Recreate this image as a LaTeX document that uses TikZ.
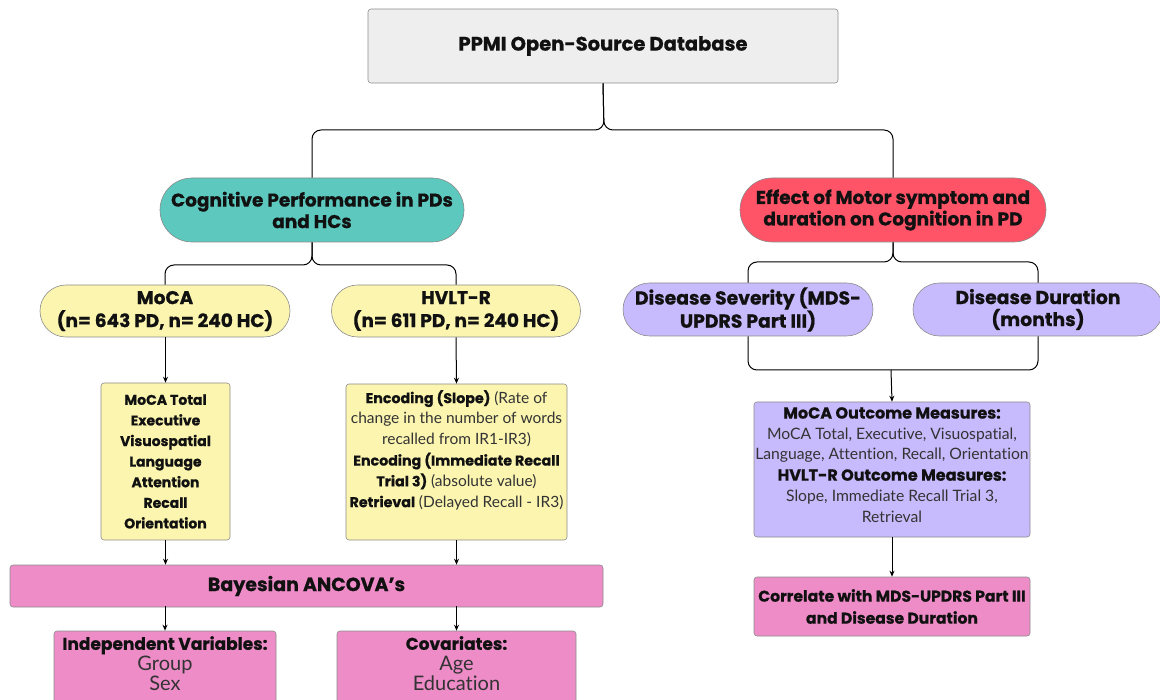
\documentclass[tikz,border=0pt]{standalone}
\usepackage{fontspec}
\setmainfont{Poppins}[BoldFeatures={FakeBold=0.7}]
\newfontfamily\rg{Lato}[Ligatures={NoCommon}, Color=333333]
\usetikzlibrary{arrows.meta}
\definecolor{bgray}{HTML}{8C8C8C}
\definecolor{cgray}{HTML}{EEEEEE}
\definecolor{cteal}{HTML}{5CC8BE}
\definecolor{cred}{HTML}{FF5468}
\definecolor{cyel}{HTML}{FBF5B0}
\definecolor{clav}{HTML}{C8BBFD}
\definecolor{cpink}{HTML}{EE8CC8}
\definecolor{ctext}{HTML}{111111}
\begin{document}
\begin{tikzpicture}[x=1pt,y=-1pt,
  shp/.style={draw=bgray, line width=0.6pt, inner sep=0pt, align=center, text=ctext},
  rbox/.style={shp, rounded corners=3pt},
  pill/.style={shp, rounded corners=#1},
  txt/.style={inner sep=0pt, align=center, text=ctext},
  conn/.style={line width=1pt, draw=black, rounded corners=9pt},
  arr/.style={line width=1pt, draw=black, -{Stealth[length=6pt,width=5pt]}}
]
\useasboundingbox (0,0) rectangle (1160,700);

% top
\node[rbox, fill=cgray, minimum width=470pt, minimum height=74pt,
  font=\fontsize{19.5}{24}\selectfont\bfseries] (ppmi) at (603,46) {PPMI Open-Source Database};

\node[pill=32pt, fill=cteal, minimum width=304pt, minimum height=64pt,
  font=\fontsize{18.5}{21.5}\selectfont\bfseries] (cog) at (312,210) {Cognitive Performance in PDs\\and HCs};
\node[pill=32pt, fill=cred, minimum width=306pt, minimum height=64pt,
  font=\fontsize{18.5}{21.5}\selectfont\bfseries] (eff) at (893,210) {Effect of Motor symptom and\\duration on Cognition in PD};

\coordinate (j1) at (604,130);
\draw[conn] (ppmi.south) -- (j1) -| (cog.north);
\draw[conn] (ppmi.south) -- (j1) -| (eff.north);

% left branch
\node[pill=26pt, fill=cyel, minimum width=250pt, minimum height=52pt,
  font=\fontsize{18.5}{23}\selectfont\bfseries] (moca) at (165,311) {MoCA\\(n= 643 PD, n= 240 HC)};
\node[pill=26pt, fill=cyel, minimum width=249pt, minimum height=52pt,
  font=\fontsize{18.5}{23}\selectfont\bfseries] (hvlt) at (456,311) {HVLT-R\\(n= 611 PD, n= 240 HC)};
\coordinate (j2) at (312,265);
\draw[conn] (cog.south) -- (j2) -| (moca.north);
\draw[conn] (cog.south) -- (j2) -| (hvlt.north);

\node[rbox, fill=cyel, minimum width=129pt, minimum height=157pt,
  font=\fontsize{14}{20.6}\selectfont\bfseries] (mocalist) at (165.5,461.5)
  {MoCA Total\\Executive\\Visuospatial\\Language\\Attention\\Recall\\Orientation};
\node[rbox, fill=cyel, minimum width=221pt, minimum height=156pt] (hvltlist) at (456.5,462) {};
\node[txt, anchor=north, font=\fontsize{14.2}{20.8}\selectfont] (hvlttext) at (456.5,390)
  {\textbf{Encoding (Slope)} {\rg\fontsize{15.5}{20.8}\selectfont (Rate of}\\
   {\rg\fontsize{15.5}{20.8}\selectfont change in the number of words}\\
   {\rg\fontsize{15.5}{20.8}\selectfont recalled from IR1-IR3)}\\
   \textbf{Encoding (Immediate Recall}\\
   \textbf{Trial 3)} {\rg\fontsize{15.5}{20.8}\selectfont (absolute value)}\\
   \textbf{Retrieval} {\rg\fontsize{15.5}{20.8}\selectfont (Delayed Recall - IR3)}};

\draw[arr] (moca.south -| mocalist.north) -- (mocalist.north);
\draw[arr] (hvlt.south) -- (hvltlist.north);

\node[rbox, fill=cpink, minimum width=593pt, minimum height=42pt,
  font=\fontsize{19}{22}\selectfont\bfseries] (bayes) at (306.5,586) {Bayesian ANCOVA’s};
\draw[arr] (mocalist.south) -- (mocalist.south |- bayes.north);
\draw[arr] (hvltlist.south) -- (hvltlist.south |- bayes.north);

\node[rbox, fill=cpink, minimum width=222pt, minimum height=84pt] (iv) at (165,673) {};
\node[txt, anchor=north, font=\fontsize{17}{20.5}\selectfont] (ivtext) at (165,636)
  {\textbf{Independent Variables:}\\{\rg\fontsize{20}{20.5}\selectfont Group}\\{\rg\fontsize{20}{20.5}\selectfont Sex}};
\node[rbox, fill=cpink, minimum width=239pt, minimum height=84pt] (cov) at (456.5,673) {};
\node[txt, anchor=north, font=\fontsize{17}{20.5}\selectfont] (covtext) at (456.5,636)
  {\textbf{Covariates:}\\{\rg\fontsize{20}{20.5}\selectfont Age}\\{\rg\fontsize{20}{20.5}\selectfont Education}};
\draw[arr] (165,606) -- (iv.north);
\draw[arr] (456.5,606) -- (cov.north);

% right branch
\node[pill=26.5pt, fill=clav, minimum width=250pt, minimum height=53pt,
  font=\fontsize{18.8}{22}\selectfont\bfseries] (sev) at (748,309.5) {Disease Severity (MDS-\\UPDRS Part III)};
\node[pill=26.5pt, fill=clav, minimum width=250pt, minimum height=53pt,
  font=\fontsize{18.8}{22}\selectfont\bfseries] (dur) at (1038,309.5) {Disease Duration\\(months)};
\coordinate (j3) at (893,262);
\draw[conn] (eff.south) -- (j3) -| (sev.north);
\draw[conn] (eff.south) -- (j3) -| (dur.north);

\coordinate (j4) at (891,370);
\draw[conn] (sev.south) |- (j4);
\draw[conn] (dur.south) |- (j4);

\node[rbox, fill=clav, minimum width=276pt, minimum height=135pt] (out) at (892,469.5) {};
\node[txt, anchor=north, font=\fontsize{16}{20.7}\selectfont] (outtext) at (892,407)
  {\textbf{MoCA Outcome Measures:}\\
   {\rg\fontsize{15.7}{20.7}\selectfont MoCA Total, Executive, Visuospatial,}\\
   {\rg\fontsize{15.7}{20.7}\selectfont Language, Attention, Recall, Orientation}\\
   \textbf{HVLT-R Outcome Measures:}\\
   {\rg\fontsize{15.7}{20.7}\selectfont Slope, Immediate Recall Trial 3,}\\
   {\rg\fontsize{15.7}{20.7}\selectfont Retrieval}};
\draw[arr] (j4) -- (out.north);

\node[rbox, fill=cpink, minimum width=276pt, minimum height=59pt,
  font=\fontsize{15.6}{22}\selectfont\bfseries] (corr) at (892,606.5)
  {Correlate with MDS-UPDRS Part III\\and Disease Duration};
\draw[arr] (out.south) -- (corr.north);
\end{tikzpicture}
\end{document}
